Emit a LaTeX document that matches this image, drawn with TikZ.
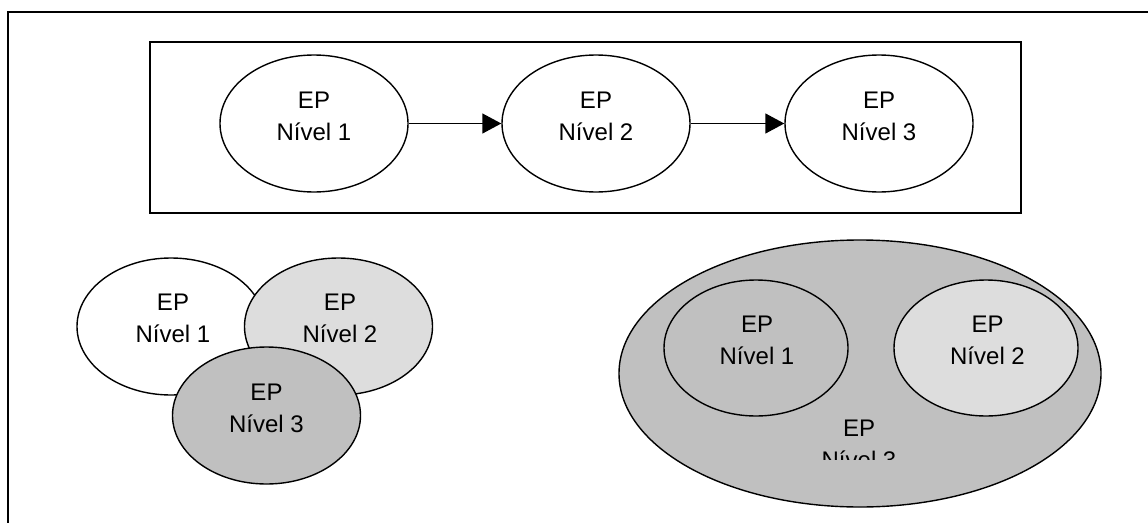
\documentclass[tikz,border=0pt]{standalone}
\usepackage{fontspec}
\setmainfont{Liberation Sans}
\usetikzlibrary{shapes.geometric,arrows.meta}
\definecolor{lightfill}{HTML}{DDDDDD}
\definecolor{midfill}{HTML}{C0C0C0}
\begin{document}
\begin{tikzpicture}[x=1pt,y=-1pt,
  ep/.style={ellipse, draw, line width=1.4pt, inner sep=0pt, fill=white,
             minimum width=188pt, minimum height=137pt},
  lbl/.style={inner sep=0pt, align=center, font=\fontsize{24}{32}\selectfont},
  flow/.style={-{Triangle[length=19pt,width=20pt]}, line width=1.4pt},
  frame/.style={line width=2pt}]
\useasboundingbox (0,0) rectangle (1148,522);

% outer frame and the box around the sequence
\draw[frame] (8.3,540) -- (8.3,12) -- (1170,12);
\draw[frame] (150.3,42) rectangle (1021,213);

% sequence of levels
\node[ep] (s1) at (314,123.5) {};
\node[ep] (s2) at (596,123.5) {};
\node[ep] (s3) at (879,123.5) {};
\node[lbl] (s1t) at (314,116) {EP\\Nível 1};
\node[lbl] (s2t) at (596,116) {EP\\Nível 2};
\node[lbl] (s3t) at (879,116) {EP\\Nível 3};
\draw[flow] (s1) -- (s2);
\draw[flow] (s2) -- (s3);

% overlapping levels
\node[ep] (o1) at (171,326.5) {};
\node[lbl] (o1t) at (173,318) {EP\\Nível 1};
\node[ep, fill=lightfill] (o2) at (338.5,326.5) {};
\node[lbl] (o2t) at (340,318) {EP\\Nível 2};
\node[ep, fill=midfill] (o3) at (266.5,415.5) {};
\node[lbl] (o3t) at (266.5,408.5) {EP\\Nível 3};

% nested levels
\node[ep, fill=midfill, minimum width=482pt, minimum height=267pt] (n3) at (860,373.5) {};
\node[ep, fill=midfill, minimum width=184pt, minimum height=136pt] (n1) at (756,348) {};
\node[ep, fill=lightfill, minimum width=184pt, minimum height=136pt] (n2) at (986,348) {};
\node[lbl] (n1t) at (757,340) {EP\\Nível 1};
\node[lbl] (n2t) at (987.5,340) {EP\\Nível 2};
\begin{scope}
  \clip (760,400) rectangle (960,459.5);
  \node[lbl] (n3t) at (859,444) {EP\\Nível 3};
\end{scope}
\end{tikzpicture}
\end{document}
